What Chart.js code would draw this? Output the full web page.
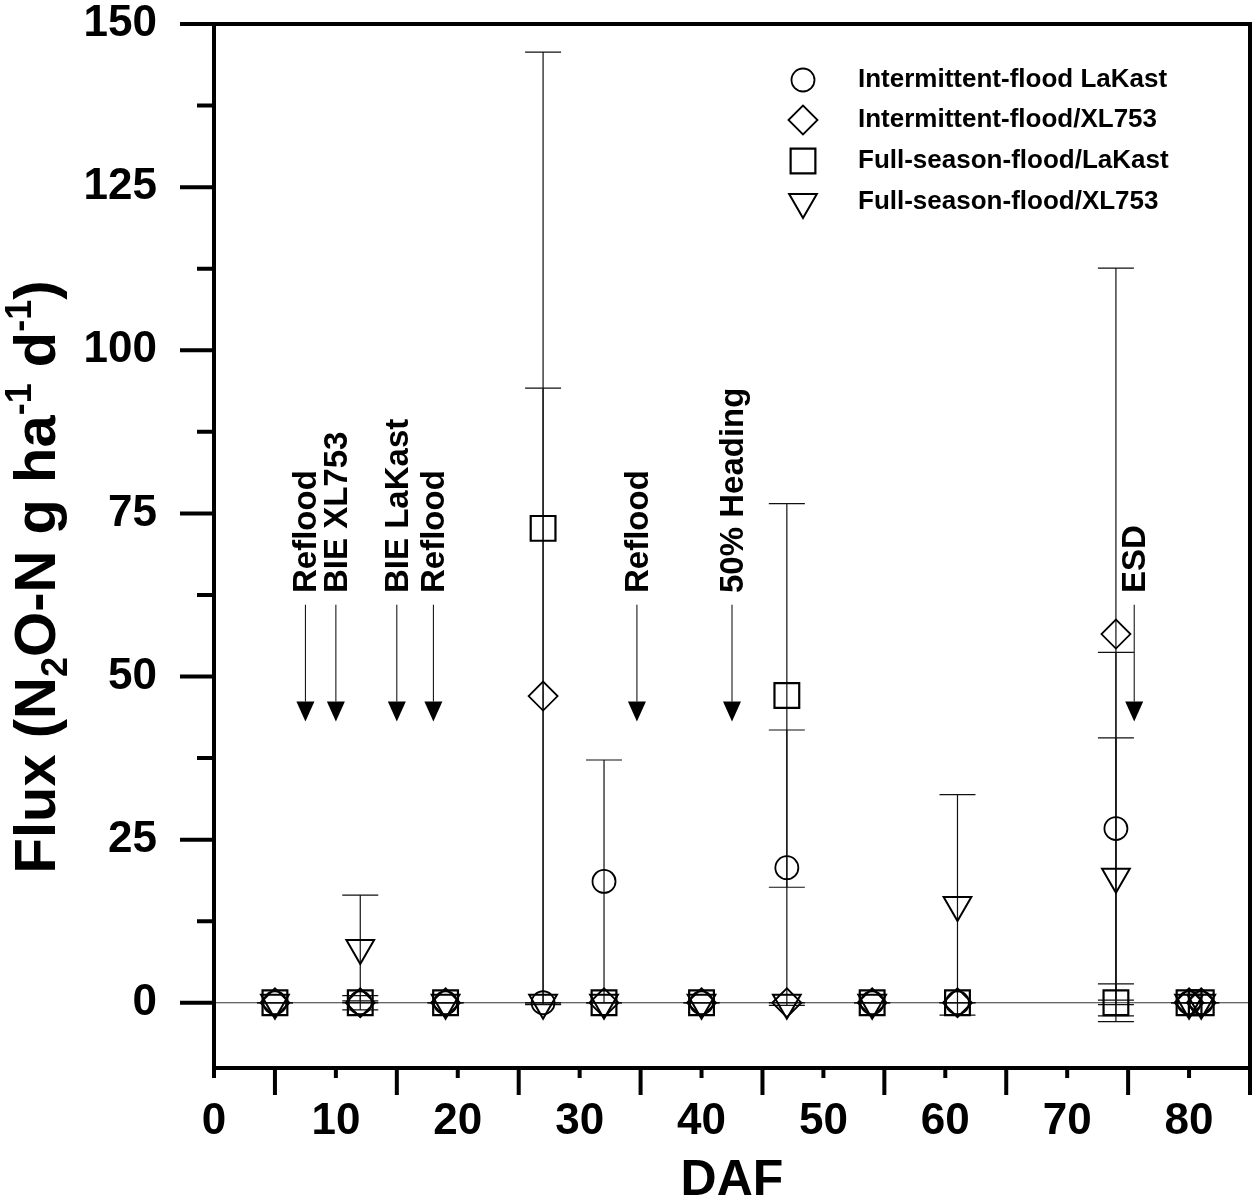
<!DOCTYPE html>
<html>
<head>
<meta charset="utf-8">
<script src="https://cdn.jsdelivr.net/npm/chart.js@4.4.1/dist/chart.umd.min.js"></script>
<style>
  html, body { margin: 0; padding: 0; background: #fff; overflow: hidden; }
  canvas { display: block; }
</style>
</head>
<body>
<canvas id="fluxChart" width="1252" height="1200"></canvas>
<script>
// sampling days (days after flood) shared by all four treatments
const daf = [5, 12, 19, 27, 32, 40, 47, 54, 61, 74, 80, 81];

const ifLaKast = [0, 0, 0, 0, 18.6, 0, 20.7, 0, 0, 26.7, 0, 0];
const ifLaKastErr = [0, 1.1, 0, 0, 18.6, 0, 21.1, 0, 0, 27, 0, 0];

const ifXL753 = [0, 0, 0, 47, 0, 0, 0, 0, 0, 56.5, 0, 0];
const ifXL753Err = [0, 0, 0, 47.2, 0, 0, 0, 0, 0, 56.1, 0, 0];

const fsLaKast = [0, 0, 0, 72.7, 0, 0, 47.1, 0, 0, 0, 0, 0];
const fsLaKastErr = [0, 0, 0, 73, 0, 0, 29.4, 0, 0, 2.9, 0, 0];

const fsXL753 = [0, 8.4, 0, 0, 0, 0, 0, 0, 15, 19.3, 0, 0];
const fsXL753Err = [0, 8.1, 0, 0, 0, 0, 0, 0, 16.9, 21.3, 0, 0];

const xTickLabels = [0, 10, 20, 30, 40, 50, 60, 70, 80];
const yTickLabels = [0, 25, 50, 75, 100, 125, 150];

// management events marked with arrows
const eventDaf = [7.5, 10, 15, 18, 34.7, 42.5, 75.5];
const eventLabels = ['Reflood', 'BIE XL753', 'BIE LaKast', 'Reflood', 'Reflood', '50% Heading', 'ESD'];

const FONT = "'Liberation Sans', Arial, sans-serif";

function series(label, vals, errs, style, radius, rotation, width) {
    return {
        label: label,
        data: daf.map((d, i) => ({ x: d, y: vals[i] })),
        errors: errs,
        pointStyle: style,
        pointRadius: radius,
        pointRotation: rotation,
        pointBorderWidth: width,
        borderColor: '#000',
        backgroundColor: 'rgba(0,0,0,0)',
        pointBackgroundColor: 'rgba(0,0,0,0)',
        pointBorderColor: '#000',
        showLine: false
    };
}

const datasets = [
    series('Intermittent-flood LaKast', ifLaKast, ifLaKastErr, 'circle', 11.5, 0, 1.8),
    series('Intermittent-flood/XL753', ifXL753, ifXL753Err, 'rectRot', 14.5, 0, 1.8),
    series('Full-season-flood/LaKast', fsLaKast, fsLaKastErr, 'rect', 17.5, 0, 2.2),
    series('Full-season-flood/XL753', fsXL753, fsXL753Err, 'triangle', 16, 180, 2)
];

// zero line and error bars go underneath the markers
const errorBars = {
    id: 'errorBars',
    beforeDatasetsDraw(chart) {
        const ctx = chart.ctx;
        const xs = chart.scales.x, ys = chart.scales.y;
        const area = chart.chartArea;
        ctx.save();
        ctx.strokeStyle = '#333';
        ctx.lineWidth = 1;
        ctx.beginPath();
        ctx.moveTo(area.left, ys.getPixelForValue(0));
        ctx.lineTo(area.right, ys.getPixelForValue(0));
        ctx.stroke();

        ctx.strokeStyle = '#111';
        ctx.lineWidth = 1.2;
        chart.data.datasets.forEach((ds) => {
            ds.data.forEach((p, i) => {
                const e = ds.errors[i];
                const x = xs.getPixelForValue(p.x);
                const top = ys.getPixelForValue(p.y + e);
                const bot = ys.getPixelForValue(p.y - e);
                ctx.beginPath();
                ctx.moveTo(x, top);
                ctx.lineTo(x, bot);
                ctx.moveTo(x - 18, top);
                ctx.lineTo(x + 18, top);
                ctx.moveTo(x - 18, bot);
                ctx.lineTo(x + 18, bot);
                ctx.stroke();
            });
        });
        ctx.restore();
    }
};

const frame = {
    id: 'frame',
    afterDraw(chart) {
        const ctx = chart.ctx;
        const xs = chart.scales.x, ys = chart.scales.y;
        const a = chart.chartArea;
        ctx.save();
        ctx.strokeStyle = '#000';
        ctx.fillStyle = '#000';

        // plot box
        ctx.lineWidth = 4;
        ctx.strokeRect(a.left, a.top, a.right - a.left, a.bottom - a.top);

        // y ticks: long at labels, short halfway
        ctx.beginPath();
        for (let v = 0; v <= 150; v += 12.5) {
            const y = ys.getPixelForValue(v);
            const len = (v % 25 === 0) ? 34 : 17;
            ctx.moveTo(a.left - len, y);
            ctx.lineTo(a.left, y);
        }
        // x ticks: short at labels, long at the fives
        for (let v = 0; v <= 85; v += 5) {
            const x = xs.getPixelForValue(v);
            const len = (v % 10 === 0) ? 10 : 27;
            ctx.moveTo(x, a.bottom);
            ctx.lineTo(x, a.bottom + len);
        }
        ctx.stroke();

        // x tick labels
        ctx.font = 'bold 44px ' + FONT;
        ctx.textAlign = 'center';
        ctx.textBaseline = 'middle';
        xTickLabels.forEach((v) => {
            ctx.fillText(String(v), xs.getPixelForValue(v), a.bottom + 54);
        });

        // event arrows
        ctx.lineWidth = 1;
        eventDaf.forEach((d, i) => {
            const x = xs.getPixelForValue(d);
            const yStart = ys.getPixelForValue(61);
            const yTip = ys.getPixelForValue(43.1);
            ctx.beginPath();
            ctx.moveTo(x, yStart);
            ctx.lineTo(x, yTip - 20);
            ctx.stroke();
            ctx.beginPath();
            ctx.moveTo(x - 9, yTip - 20);
            ctx.lineTo(x + 9, yTip - 20);
            ctx.lineTo(x, yTip);
            ctx.closePath();
            ctx.fill();

            ctx.save();
            ctx.translate(x + 11, ys.getPixelForValue(62.8));
            ctx.rotate(-Math.PI / 2);
            ctx.font = 'bold 33px ' + FONT;
            ctx.textAlign = 'left';
            ctx.textBaseline = 'alphabetic';
            ctx.fillText(eventLabels[i], 0, 0);
            ctx.restore();
        });

        // legend
        const rows = [80, 120, 161, 202];
        chart.data.datasets.forEach((ds, i) => {
            ctx.fillStyle = 'rgba(0,0,0,0)';
            ctx.strokeStyle = '#000';
            ctx.lineWidth = ds.pointBorderWidth;
            Chart.helpers.drawPoint(ctx, {
                pointStyle: ds.pointStyle,
                radius: ds.pointRadius,
                rotation: ds.pointRotation,
                borderWidth: ds.pointBorderWidth
            }, 803, rows[i]);
            ctx.fillStyle = '#000';
            ctx.font = 'bold 26px ' + FONT;
            ctx.textAlign = 'left';
            ctx.textBaseline = 'middle';
            ctx.fillText(ds.label, 858, rows[i]);
        });

        // x title
        ctx.fillStyle = '#000';
        ctx.font = 'bold 50px ' + FONT;
        ctx.textAlign = 'center';
        ctx.textBaseline = 'alphabetic';
        ctx.fillText('DAF', (a.left + a.right) / 2, 1195);

        // y title with sub/superscripts
        const size = 58;
        const parts = [
            ['Flux (N', 0], ['2', 1], ['O-N g ha', 0], ['-1', -1], [' d', 0], ['-1', -1], [')', 0]
        ];
        const fontFor = (k) => 'bold ' + (k === 0 ? size : Math.round(size * 0.62)) + 'px ' + FONT;
        let total = 0;
        parts.forEach(([t, k]) => { ctx.font = fontFor(k); total += ctx.measureText(t).width; });
        ctx.save();
        ctx.translate(55, 577);
        ctx.rotate(-Math.PI / 2);
        ctx.textAlign = 'left';
        let cx = -total / 2;
        parts.forEach(([t, k]) => {
            ctx.font = fontFor(k);
            const dy = k === 1 ? size * 0.2 : (k === -1 ? -size * 0.42 : 0);
            ctx.fillText(t, cx, dy);
            cx += ctx.measureText(t).width;
        });
        ctx.restore();

        ctx.restore();
    }
};

function noPadding(s) {
    s.paddingTop = 0;
    s.paddingBottom = 0;
    s.paddingLeft = 0;
    s.paddingRight = 0;
}

new Chart(document.getElementById('fluxChart'), {
    type: 'scatter',
    data: { datasets: datasets },
    options: {
        responsive: false,
        animation: false,
        events: [],
        layout: { autoPadding: false, padding: { top: 24, right: 2, left: 0, bottom: 0 } },
        plugins: {
            legend: { display: false },
            tooltip: { enabled: false }
        },
        scales: {
            x: {
                type: 'linear',
                min: 0,
                max: 85,
                afterFit: (s) => { s.height = 132; noPadding(s); },
                afterBuildTicks: (s) => { s.ticks = xTickLabels.map(v => ({ value: v })); },
                grid: { display: false, drawTicks: false },
                border: { display: false },
                ticks: { display: false }
            },
            y: {
                min: -10,
                max: 150,
                afterFit: (s) => { s.width = 214; noPadding(s); },
                afterBuildTicks: (s) => { s.ticks = yTickLabels.map(v => ({ value: v })); },
                grid: { display: false, drawTicks: false },
                border: { display: false },
                ticks: {
                    padding: 57,
                    color: '#000',
                    font: { family: FONT, size: 44, weight: 'bold' }
                }
            }
        }
    },
    plugins: [errorBars, frame]
});
</script>
</body>
</html>
